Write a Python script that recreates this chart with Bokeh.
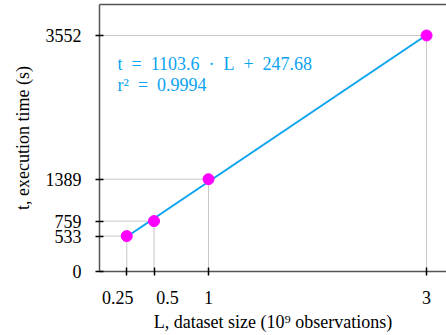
from bokeh.plotting import figure
from bokeh.models import Range1d, LinearAxis, FixedTicker, Label
from bokeh.embed import file_html
from bokeh.resources import INLINE

# ---- data ----
L = [0.25, 0.5, 1, 3]
t = [533, 759, 1389, 3552]
slope = 1103.6
intercept = 247.68
r2 = 0.9994
x_ticks = [0.25, 0.5, 1, 3]
y_ticks = [0, 533, 759, 1389, 3552]

FONT = "Liberation Serif"
FS = "18px"
BLUE = "#0aa3f0"
SP = "\u2002"

p = figure(width=446, height=335, x_range=Range1d(0, 3.183), y_range=Range1d(0, 4018),
           output_backend="svg", toolbar_location=None,
           min_border_left=99, min_border_right=0, min_border_top=4, min_border_bottom=64)
p.outline_line_color = None
p.grid.visible = False
p.background_fill_color = "white"
p.border_fill_color = "white"

# drop lines
p.segment(x0=L, y0=[0] * len(L), x1=L, y1=t, line_color="#c8c8c8", line_width=1)
p.segment(x0=[0] * len(L), y0=t, x1=L, y1=t, line_color="#c8c8c8", line_width=1)

# fit line
xf = [L[0], L[-1]]
yf = [slope * x + intercept for x in xf]
p.line(xf, yf, line_color=BLUE, line_width=2)

# points
p.scatter(L, t, size=11, fill_color="#ff00ff", line_color="#ff00ff")

# annotation
p.add_layout(Label(x=0.165, y=3116, text=f"t{SP}={SP}{slope}{SP}\u00b7{SP}L{SP}+{SP}{intercept}",
                   text_font=FONT, text_font_size=FS, text_color=BLUE, text_baseline="alphabetic"))
p.add_layout(Label(x=0.165, y=2800, text=f"r\u00b2{SP}={SP}{r2}",
                   text_font=FONT, text_font_size=FS, text_color=BLUE, text_baseline="alphabetic"))

# axes
for ax in (p.xaxis[0], p.yaxis[0]):
    ax.axis_line_color = "#555555"
    ax.axis_line_width = 1.5
    ax.major_tick_line_color = "black"
    ax.major_tick_line_width = 1.5
    ax.major_tick_in = 4
    ax.major_tick_out = 4
    ax.minor_tick_line_color = None
    ax.major_label_text_font = FONT
    ax.major_label_text_font_size = FS
    ax.major_label_text_color = "black"
    ax.axis_label_text_font = FONT
    ax.axis_label_text_font_size = FS
    ax.axis_label_text_font_style = "normal"
    ax.axis_label_text_color = "black"

p.xaxis[0].ticker = FixedTicker(ticks=x_ticks)
p.yaxis[0].ticker = FixedTicker(ticks=y_ticks)
p.xaxis[0].major_label_overrides = {x_ticks[0]: "0.25" + SP * 2, x_ticks[1]: SP * 3 + "0.5"}
p.xaxis[0].major_label_standoff = 12
p.yaxis[0].major_label_standoff = 14
p.xaxis[0].axis_label = "L, dataset size (10\u2079 observations)"
p.yaxis[0].axis_label = "t, execution time (s)"
p.xaxis[0].axis_label_standoff = 1
p.yaxis[0].axis_label_standoff = 10

top = LinearAxis(ticker=FixedTicker(ticks=[]), major_label_text_font_size="0px",
                 axis_line_color="#555555", axis_line_width=1.5,
                 major_tick_line_color=None, minor_tick_line_color=None,
                 major_tick_in=0, major_tick_out=0, major_label_standoff=0)
p.add_layout(top, "above")

open("out.html", "w").write(file_html(p, INLINE))
